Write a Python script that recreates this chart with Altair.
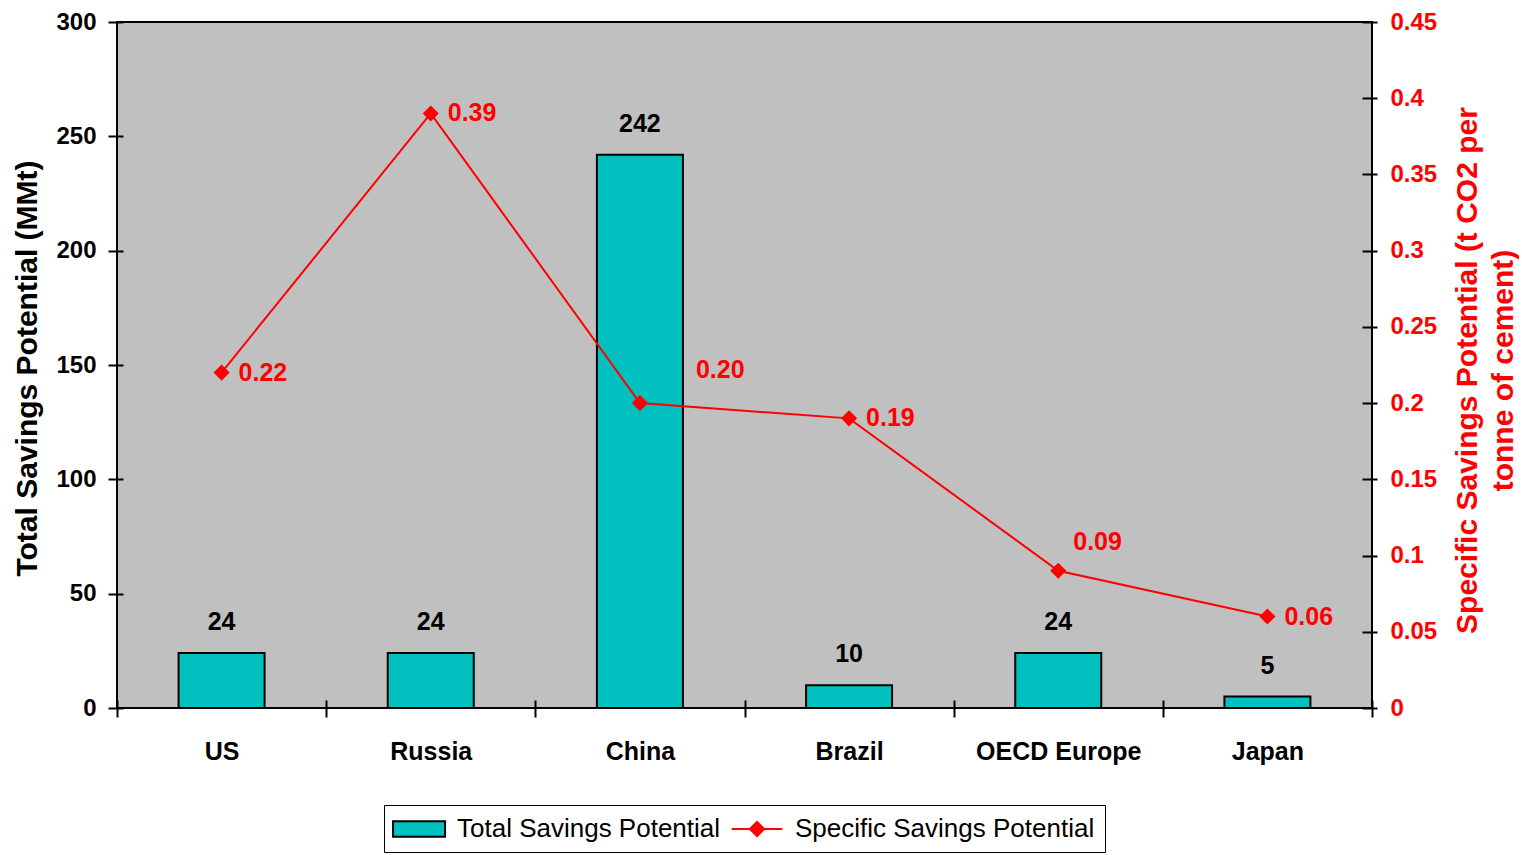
import altair as alt
import pandas as pd

countries = ["US", "Russia", "China", "Brazil", "OECD Europe", "Japan"]
total_savings = [24, 24, 242, 10, 24, 5]
specific_savings = [0.22, 0.39, 0.20, 0.19, 0.09, 0.06]
left_ticks = [0, 50, 100, 150, 200, 250, 300]
right_ticks = [0, 0.05, 0.1, 0.15, 0.2, 0.25, 0.3, 0.35, 0.4, 0.45]
series_names = ["Total Savings Potential", "Specific Savings Potential"]

df = pd.DataFrame({
    "country": countries,
    "total": total_savings,
    "specific": specific_savings,
    "spec_label": [f"{v:.2f}" for v in specific_savings],
})

FONT = "Liberation Sans"
TEAL = "#00C0C0"
RED = "#FF0000"

x_enc = alt.X(
    "country:N", sort=countries,
    scale=alt.Scale(paddingInner=0, paddingOuter=0),
    axis=alt.Axis(title=None, labelAngle=0, tickBand="extent", domain=False,
                  offset=-8, tickSize=17, tickWidth=2, tickColor="black",
                  labelPadding=22, labelFont=FONT, labelFontSize=25,
                  labelFontWeight="bold", labelColor="black"),
)

y_left = alt.Y(
    "total:Q", scale=alt.Scale(domain=[0, 300], nice=False),
    axis=alt.Axis(title="Total Savings Potential (MMt)", values=left_ticks,
                  orient="left", domain=False, offset=-6, tickSize=15,
                  tickWidth=2, tickColor="black", labelPadding=12,
                  labelFont=FONT, labelFontSize=24, labelFontWeight="bold",
                  labelColor="black", titleFont=FONT, titleFontSize=30,
                  titleFontWeight="bold", titleColor="black", titleAngle=270,
                  titleX=-96, titleY=346, titleAlign="center",
                  titleBaseline="middle", grid=False),
)

y_right = alt.Y(
    "specific:Q", scale=alt.Scale(domain=[0, 0.45], nice=False),
    axis=alt.Axis(title=["Specific Savings Potential (t CO2 per", "tonne of cement)"],
                  values=right_ticks, format=".2~f", orient="right",
                  domain=False, offset=-10, tickSize=15, tickWidth=2,
                  tickColor="black", labelPadding=13, labelFont=FONT,
                  labelFontSize=24, labelFontWeight="bold", labelColor=RED,
                  titleFont=FONT, titleFontSize=30, titleFontWeight="bold",
                  titleColor=RED, titleAngle=270, titleX=105, titleY=348,
                  titleAlign="center", titleBaseline="middle",
                  titleLineHeight=36, grid=False),
)

fill_scale = alt.Scale(domain=series_names, range=[TEAL, RED])
stroke_scale = alt.Scale(domain=series_names, range=["black", RED])
shape_scale = alt.Scale(
    domain=series_names,
    range=["M-1.15,-0.6H2.85V0.6H-1.15Z",
           "M-1.1,0H2.8M0.3,0L0.85,-0.55L1.4,0L0.85,0.55Z"],
)
legend = alt.Legend(title=None, orient="none", direction="horizontal",
                    legendX=267, legendY=783, symbolSize=676,
                    symbolStrokeWidth=2, symbolOpacity=1, labelFont=FONT,
                    labelFontSize=26, labelLimit=500, labelColor="black",
                    labelOffset=35, columnPadding=6,
                    strokeColor="black", padding=10)

base = alt.Chart(df)

bars = base.transform_calculate(series="'Total Savings Potential'").mark_bar(
    size=86, strokeWidth=2
).encode(
    x=x_enc, y=y_left,
    fill=alt.Fill("series:N", scale=fill_scale, legend=legend),
    stroke=alt.Stroke("series:N", scale=stroke_scale, legend=legend),
)

bar_text = base.mark_text(
    font=FONT, fontSize=25, fontWeight="bold", color="black",
    baseline="alphabetic", dy=-23
).encode(x=alt.X("country:N", sort=countries), y=alt.Y("total:Q"),
         text=alt.Text("total:Q"))

left_layer = alt.layer(bars, bar_text)

line = base.transform_calculate(series="'Specific Savings Potential'").mark_line(
    strokeWidth=2
).encode(
    x=alt.X("country:N", sort=countries), y=y_right,
    stroke=alt.Stroke("series:N", scale=stroke_scale, legend=legend),
)

# invisible layer that only feeds the legend's symbol shapes
legend_points = base.transform_calculate(series="'Specific Savings Potential'").mark_point(
    filled=True, size=10, opacity=0
).encode(
    x=alt.X("country:N", sort=countries), y=alt.Y("specific:Q"),
    fill=alt.Fill("series:N", scale=fill_scale, legend=legend),
    shape=alt.Shape("series:N", scale=shape_scale, legend=legend),
)

pt_diamond = base.mark_point(filled=True, size=260, shape="diamond",
                             color=RED, opacity=1).encode(
    x=alt.X("country:N", sort=countries), y=alt.Y("specific:Q"))

normal = ["US", "Russia", "Brazil", "Japan"]
lab_normal = base.transform_filter(
    alt.FieldOneOfPredicate(field="country", oneOf=normal)
).mark_text(font=FONT, fontSize=25, fontWeight="bold", color=RED,
            align="left", baseline="middle", dx=17).encode(
    x=alt.X("country:N", sort=countries), y=alt.Y("specific:Q"),
    text="spec_label:N")
lab_china = base.transform_filter(alt.datum.country == "China").mark_text(
    font=FONT, fontSize=25, fontWeight="bold", color=RED,
    align="left", baseline="middle", dx=56, dy=-33).encode(
    x=alt.X("country:N", sort=countries), y=alt.Y("specific:Q"),
    text="spec_label:N")
lab_oecd = base.transform_filter(alt.datum.country == "OECD Europe").mark_text(
    font=FONT, fontSize=25, fontWeight="bold", color=RED,
    align="left", baseline="middle", dx=15, dy=-29).encode(
    x=alt.X("country:N", sort=countries), y=alt.Y("specific:Q"),
    text="spec_label:N")

right_layer = alt.layer(line, legend_points, pt_diamond, lab_normal, lab_china, lab_oecd)

chart = alt.layer(left_layer, right_layer).resolve_scale(
    y="independent"
).properties(
    width=1255, height=686,
    autosize=alt.AutoSizeParams(type="none"),
    padding={"left": 117, "top": 22, "right": 150, "bottom": 147},
    background="white",
).configure_view(
    fill="#C0C0C0", stroke="black", strokeWidth=2
)

chart.save("out.html", embed_options={"renderer": "svg", "actions": False})
